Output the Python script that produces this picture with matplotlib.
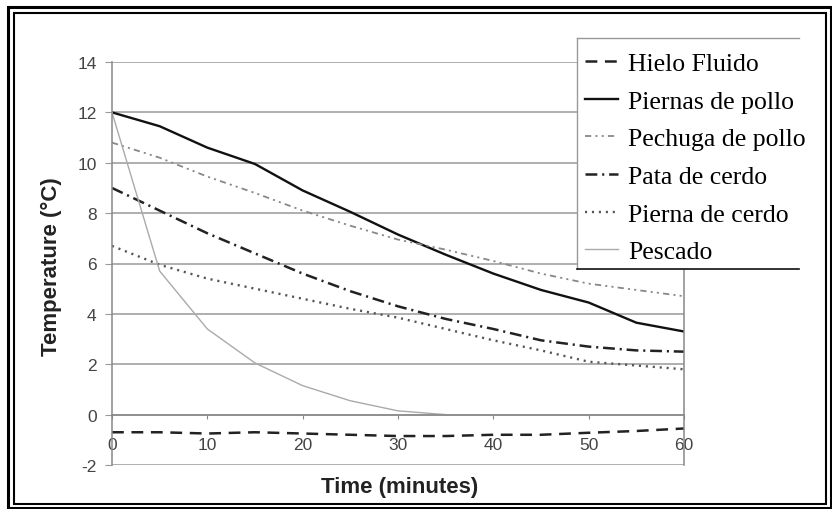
import matplotlib
matplotlib.use("Agg")
import matplotlib.pyplot as plt
from matplotlib.patches import Rectangle
from matplotlib.lines import Line2D

plt.rcParams['axes.unicode_minus'] = False
plt.rcParams['lines.scale_dashes'] = False
plt.rcParams['font.family'] = ['Liberation Sans', 'DejaVu Sans']

# datos (cada 5 minutos)
time_min = [0, 5, 10, 15, 20, 25, 30, 35, 40, 45, 50, 55, 60]
hielo_fluido = [-0.7, -0.7, -0.75, -0.7, -0.75, -0.8, -0.85, -0.85, -0.8, -0.8, -0.72, -0.65, -0.55]
piernas_pollo = [12.0, 11.45, 10.6, 9.95, 8.9, 8.05, 7.15, 6.35, 5.6, 4.95, 4.45, 3.65, 3.3]
pechuga_pollo = [10.8, 10.2, 9.45, 8.8, 8.1, 7.5, 6.95, 6.55, 6.1, 5.6, 5.2, 4.95, 4.7]
pata_cerdo = [9.0, 8.1, 7.2, 6.4, 5.6, 4.9, 4.3, 3.8, 3.4, 2.95, 2.7, 2.55, 2.5]
pierna_cerdo = [6.7, 5.95, 5.4, 5.0, 4.6, 4.2, 3.85, 3.4, 2.95, 2.55, 2.1, 1.95, 1.8]
pescado_time = [0, 5, 10, 15, 20, 25, 30, 35]
pescado = [12.0, 5.7, 3.4, 2.05, 1.15, 0.55, 0.15, 0.0]

x_ticks = [0, 10, 20, 30, 40, 50, 60]
y_ticks = [-2, 0, 2, 4, 6, 8, 10, 12, 14]

W, H = 832, 510
fig = plt.figure(figsize=(W / 100, H / 100), dpi=100)
ax = fig.add_axes([112 / W, 1 - 466 / H, (684 - 112) / W, (466 - 63) / H])

ax.plot(time_min, hielo_fluido, color='#222222', lw=1.8, dashes=(8.5, 5.5), label='Hielo Fluido')
ax.plot(time_min, piernas_pollo, color='#111111', lw=1.7, label='Piernas de pollo')
ax.plot(time_min, pechuga_pollo, color='#888888', lw=1.3, dashes=(4.5, 3, 1.5, 3, 1.5, 3), label='Pechuga de pollo')
ax.plot(time_min, pata_cerdo, color='#222222', lw=1.8, dashes=(8.5, 3.5, 1.5, 3.5), label='Pata de cerdo')
ax.plot(time_min, pierna_cerdo, color='#555555', lw=1.7, dashes=(1.5, 3.5), label='Pierna de cerdo')
ax.plot(pescado_time, pescado, color='#aaaaaa', lw=1.0, label='Pescado')

ax.set_xlim(0, 60)
ax.set_ylim(-2, 14)
ax.set_xticks(x_ticks)
ax.set_yticks(y_ticks)
ax.grid(axis='y', color='#999999', lw=1.1)
ax.set_axisbelow(True)

ax.spines['top'].set_visible(False)
ax.spines['bottom'].set_position(('data', 0))
for s in ['left', 'right', 'bottom']:
    ax.spines[s].set_color('#888888')
    ax.spines[s].set_linewidth(1.1)

ax.tick_params(axis='x', direction='out', length=3, color='#888888', pad=13,
               labelsize=12.5, labelcolor='#444444')
ax.tick_params(axis='y', direction='out', length=5, color='#999999', pad=6,
               labelsize=12.5, labelcolor='#444444')

fig.text(51 / W, 1 - 267 / H, 'Temperature (°C)', rotation=90, ha='center', va='center',
         fontsize=16, fontweight='bold', color='#222222')
fig.text(400 / W, 1 - 488 / H, 'Time (minutes)', ha='center', va='center',
         fontsize=16, fontweight='bold', color='#222222')

# caja de la leyenda
lx0, lx1, ly0, ly1 = 577 / W, 799 / W, 1 - 270 / H, 1 - 39 / H
fig.patches.append(Rectangle((lx0, ly0), lx1 - lx0, ly1 - ly0, transform=fig.transFigure,
                             facecolor='white', edgecolor='none', zorder=2))
fig.lines.append(Line2D([lx0, lx1], [ly1, ly1], transform=fig.transFigure, color='#999999', lw=1, zorder=3))
fig.lines.append(Line2D([lx0, lx0], [ly0, ly1], transform=fig.transFigure, color='#999999', lw=1, zorder=3))
fig.lines.append(Line2D([lx0, lx1], [ly0, ly0], transform=fig.transFigure, color='#111111', lw=1.2, zorder=3))

handles, labels = ax.get_legend_handles_labels()
leg = fig.legend(handles, labels, loc='upper left', bbox_to_anchor=(585 / W, 1 - 53 / H),
                 frameon=False, prop={'family': 'Liberation Serif', 'size': 18.5},
                 handlelength=1.28, handletextpad=0.39, labelspacing=0.57, borderpad=0,
                 borderaxespad=0)
leg.set_zorder(4)

# marco doble
fig.patches.append(Rectangle((8 / W, 1 - 509 / H), 822.5 / W, 501 / H, transform=fig.transFigure,
                             facecolor='none', edgecolor='black', lw=2.2, zorder=5))
fig.patches.append(Rectangle((13.5 / W, 1 - 504.5 / H), 812 / W, 491 / H, transform=fig.transFigure,
                             facecolor='none', edgecolor='black', lw=1.5, zorder=5))

fig.savefig('out.png', dpi=100)
